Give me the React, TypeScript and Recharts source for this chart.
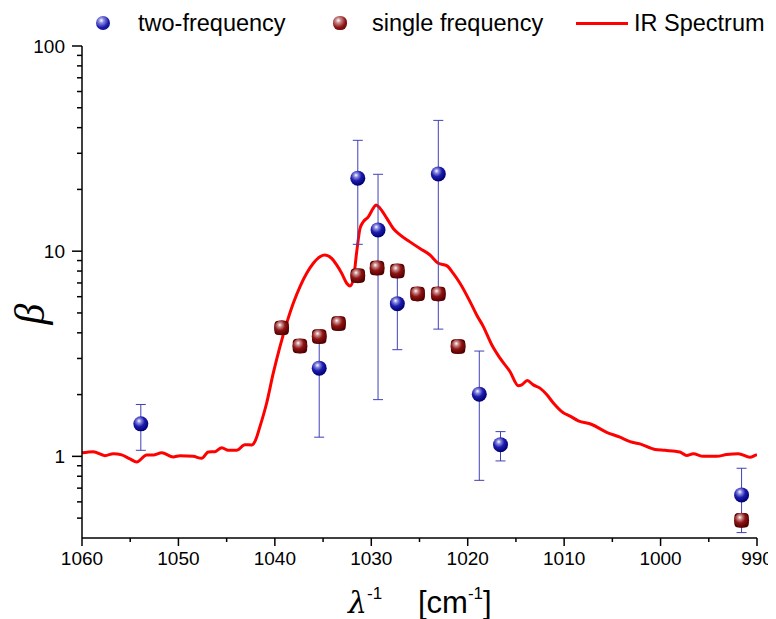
import React from 'react';
import { ComposedChart, Line, Scatter, XAxis, YAxis, ErrorBar } from 'recharts';

// IR spectrum (wavenumber, beta)
const irX = [1060, 1058.83, 1057.61, 1056.75, 1055.88, 1055.02, 1054.33, 1053.29, 1052.61, 1051.73, 1050.53, 1049.84, 1048.46, 1047.59, 1046.9, 1046.21, 1045.51, 1044.83, 1043.96, 1043.1, 1042.4, 1042.06, 1041.54, 1040.85, 1040.16, 1039.47, 1038.77, 1038.09, 1037.39, 1036.7, 1036.01, 1035.32, 1034.8, 1034.11, 1033.59, 1033.07, 1032.55, 1032.21, 1031.87, 1031.51, 1031.17, 1030.83, 1030.31, 1029.79, 1029.51, 1029.1, 1028.4, 1027.72, 1027.02, 1025.99, 1024.95, 1023.91, 1023.05, 1022.18, 1021.5, 1020.8, 1019.76, 1019.07, 1018.38, 1017.51, 1016.65, 1015.62, 1014.75, 1014.4, 1013.82, 1013.2, 1012.51, 1011.81, 1011.12, 1010.09, 1009.39, 1008.53, 1007.14, 1005.59, 1004.21, 1003.17, 1002.14, 1000.58, 999.54, 997.99, 997.29, 996.61, 995.57, 994.18, 993.14, 991.94, 990.73, 990.21, 990];
const irY = [1.04, 1.054, 1.008, 1.031, 1.016, 0.971, 0.939, 1.016, 1.016, 1.042, 0.993, 1.008, 1.0, 0.978, 1.05, 1.054, 1.102, 1.07, 1.07, 1.14, 1.137, 1.183, 1.4, 1.82, 2.55, 3.43, 4.46, 5.57, 6.72, 7.8, 8.73, 9.4, 9.58, 9.23, 8.57, 7.8, 6.98, 6.77, 7.24, 9.95, 12.9, 13.9, 14.7, 16.2, 16.8, 16.2, 14.5, 12.9, 12.0, 11.1, 10.3, 9.58, 8.73, 8.5, 7.8, 6.98, 5.68, 4.89, 4.29, 3.5, 3.01, 2.59, 2.21, 2.23, 2.34, 2.23, 2.15, 2.0, 1.82, 1.63, 1.57, 1.49, 1.43, 1.31, 1.24, 1.18, 1.15, 1.08, 1.07, 1.05, 1.01, 1.03, 1.0, 1.0, 1.02, 1.03, 0.99, 1.01, 1.02];

// two-frequency measurements with error bounds
const twoFreqX = [1053.9, 1035.4, 1031.4, 1029.3, 1027.3, 1023.05, 1018.8, 1016.6, 991.6];
const twoFreqY = [1.44, 2.69, 22.7, 12.7, 5.55, 23.8, 2.01, 1.14, 0.649];
const twoFreqHigh = [1.79, 4.1, 34.7, 23.7, 8.0, 43.4, 3.26, 1.32, 0.875];
const twoFreqLow = [1.07, 1.24, 10.8, 1.89, 3.31, 4.17, 0.764, 0.95, 0.425];

// single frequency measurements
const singleFreqX = [1039.3, 1037.4, 1035.4, 1033.4, 1031.4, 1029.4, 1027.3, 1025.2, 1023.05, 1021.0, 991.6];
const singleFreqY = [4.23, 3.45, 3.84, 4.44, 7.6, 8.28, 8.01, 6.19, 6.19, 3.43, 0.488];

const xTicks = [1060, 1055, 1050, 1045, 1040, 1035, 1030, 1025, 1020, 1015, 1010, 1005, 1000, 995, 990];
const yTicks = [0.5, 0.6, 0.7, 0.8, 0.9, 1, 2, 3, 4, 5, 6, 7, 8, 9, 10, 20, 30, 40, 50, 60, 70, 80, 90, 100];
const yMajor = [1, 10, 100];

const irData = irX.map((x, i) => ({ x, y: irY[i] }));
const twoData = twoFreqX.map((x, i) => ({
  x,
  y: twoFreqY[i],
  err: [twoFreqY[i] - twoFreqLow[i], twoFreqHigh[i] - twoFreqY[i]],
}));
const singleData = singleFreqX.map((x, i) => ({ x, y: singleFreqY[i] }));

const W = 768;
const H = 611;
const M = { top: 38, right: 19, bottom: 31, left: 14 };
const YW = 60;
const XH = 50;
const PLOT_LEFT = M.left + YW;
const PLOT_BOTTOM = H - M.bottom - XH;
const FONT = '"Liberation Sans", Arial, sans-serif';

const XTick = (props: any) => {
  const { x, payload } = props;
  const v = payload.value;
  const major = v % 10 === 0;
  return (
    <g>
      <line x1={x} x2={x} y1={PLOT_BOTTOM} y2={PLOT_BOTTOM + (major ? 8 : 4)} stroke="#000" strokeWidth={1.5} />
      {major && (
        <text x={x} y={PLOT_BOTTOM + 27} textAnchor="middle" fontSize={19} fontFamily={FONT} fill="#000">
          {v}
        </text>
      )}
    </g>
  );
};

const YTick = (props: any) => {
  const { y, payload } = props;
  const v = payload.value;
  const major = yMajor.includes(v);
  return (
    <g>
      <line x1={PLOT_LEFT} x2={PLOT_LEFT - (major ? 10 : 5)} y1={y} y2={y} stroke="#000" strokeWidth={1.5} />
      {major && (
        <text x={PLOT_LEFT - 17} y={y} dy="0.35em" textAnchor="end" fontSize={19} fontFamily={FONT} fill="#000">
          {v}
        </text>
      )}
    </g>
  );
};

const BlueBall = (props: any) => {
  const { cx, cy } = props;
  if (cx == null || cy == null) return null;
  return (
    <g>
      <defs>
        <radialGradient id="blueBallGrad" cx="0.4" cy="0.35" r="0.65" fx="0.38" fy="0.3">
          <stop offset="0%" stopColor="#ffffff" />
          <stop offset="22%" stopColor="#8a8ae0" />
          <stop offset="55%" stopColor="#1c1cae" />
          <stop offset="100%" stopColor="#000070" />
        </radialGradient>
      </defs>
      <circle cx={cx} cy={cy} r={7.5} fill="url(#blueBallGrad)" />
    </g>
  );
};

const BrownBall = (props: any) => {
  const { cx, cy } = props;
  if (cx == null || cy == null) return null;
  return (
    <g>
      <defs>
        <radialGradient id="brownBallGrad" cx="0.4" cy="0.35" r="0.65" fx="0.38" fy="0.3">
          <stop offset="0%" stopColor="#ffffff" />
          <stop offset="22%" stopColor="#c98a8a" />
          <stop offset="55%" stopColor="#8e1414" />
          <stop offset="100%" stopColor="#560000" />
        </radialGradient>
      </defs>
      <rect x={cx - 7.2} y={cy - 7.2} width={14.4} height={14.4} rx={4} fill="#4a0000" />
      <circle cx={cx} cy={cy} r={7.5} fill="url(#brownBallGrad)" />
    </g>
  );
};

const XLabel = () => (
  <text x={340} y={605} fontSize={31} fontFamily={FONT} fill="#000">
    <tspan fontStyle="italic" fontFamily='"DejaVu Serif", "Liberation Serif", serif' fontSize={30}>λ</tspan>
    <tspan dy={-14} fontSize={17}>-1</tspan>
    <tspan dy={14} x={410}>[cm</tspan>
    <tspan dy={-14} fontSize={17}>-1</tspan>
    <tspan dy={14}>]</tspan>
  </text>
);

const YLabel = () => (
  <text
    x={0}
    y={0}
    transform="translate(36, 306) rotate(-90)"
    textAnchor="middle"
    fontSize={42}
    fontStyle="italic"
    fontFamily='"Liberation Serif", "DejaVu Serif", serif'
    fill="#000"
  >
    β
  </text>
);

const ballCss = (c1: string, c2: string, c3: string) =>
  `radial-gradient(circle at 38% 32%, #ffffff 0%, ${c1} 20%, ${c2} 55%, ${c3} 100%)`;

const legendText: React.CSSProperties = {
  position: 'absolute',
  top: 1,
  fontSize: 23.5,
  lineHeight: '28px',
  fontFamily: FONT,
  color: '#000',
  whiteSpace: 'nowrap',
};

const Legend = () => (
  <div style={{ position: 'absolute', left: 0, top: 0, width: W, height: 36 }}>
    <div
      style={{
        position: 'absolute',
        left: 95 - 7,
        top: 15 - 7,
        width: 14,
        height: 14,
        borderRadius: '50%',
        background: ballCss('#8a8ae0', '#1c1cae', '#000070'),
      }}
    />
    <span style={{ ...legendText, left: 130 }}>two-frequency</span>
    <div
      style={{
        position: 'absolute',
        left: 332 - 7,
        top: 15 - 7,
        width: 14,
        height: 14,
        borderRadius: '45%',
        background: ballCss('#c98a8a', '#8e1414', '#560000'),
      }}
    />
    <span style={{ ...legendText, left: 364 }}>single frequency</span>
    <div style={{ position: 'absolute', left: 568, top: 14, width: 52, height: 3, background: '#ff0000' }} />
    <span style={{ ...legendText, left: 626 }}>IR Spectrum</span>
  </div>
);

export default function App() {
  return (
    <div style={{ position: 'relative', width: W, height: H }}>
      <ComposedChart width={W} height={H} margin={M}>
        <XAxis
          dataKey="x"
          type="number"
          domain={[990, 1060]}
          reversed
          allowDataOverflow
          ticks={xTicks}
          interval={0}
          height={XH}
          tick={<XTick />}
          tickLine={false}
          axisLine={{ stroke: '#000', strokeWidth: 1.5 }}
          label={<XLabel />}
        />
        <XAxis
          xAxisId="top"
          orientation="top"
          type="number"
          domain={[990, 1060]}
          reversed
          allowDataOverflow
          height={0}
          tick={false}
          tickLine={false}
          axisLine={{ stroke: '#a0a0a0', strokeWidth: 1 }}
        />
        <YAxis
          dataKey="y"
          type="number"
          scale="log"
          domain={[0.4, 100]}
          allowDataOverflow
          ticks={yTicks}
          interval={0}
          width={YW}
          tick={<YTick />}
          tickLine={false}
          axisLine={{ stroke: '#000', strokeWidth: 1.5 }}
          label={<YLabel />}
        />
        <YAxis
          yAxisId="right"
          orientation="right"
          type="number"
          scale="log"
          domain={[0.4, 100]}
          allowDataOverflow
          width={0}
          tick={false}
          tickLine={false}
          axisLine={{ stroke: '#a0a0a0', strokeWidth: 1 }}
        />
        <Line
          data={irData}
          dataKey="y"
          type="monotone"
          stroke="#ff0000"
          strokeWidth={3}
          dot={false}
          activeDot={false}
          isAnimationActive={false}
        />
        <Scatter data={twoData} dataKey="y" shape={<BlueBall />} isAnimationActive={false}>
          <ErrorBar dataKey="err" direction="y" width={5} stroke="#4040b8" strokeWidth={1} isAnimationActive={false} />
        </Scatter>
        <Scatter data={singleData} dataKey="y" shape={<BrownBall />} isAnimationActive={false} />
      </ComposedChart>
      <Legend />
    </div>
  );
}
